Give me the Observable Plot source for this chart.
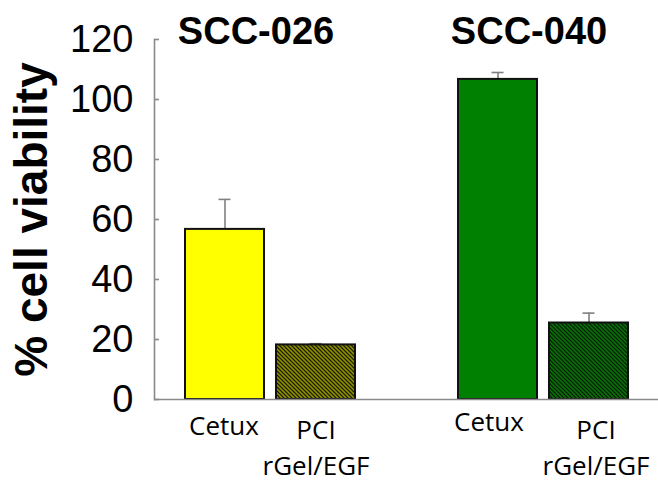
<!DOCTYPE html>
<html>
<head>
<meta charset="utf-8">
<script src="https://cdn.jsdelivr.net/npm/d3@7"></script>
<script src="https://cdn.jsdelivr.net/npm/@observablehq/plot@0.6"></script>
<style>
  html, body { margin: 0; padding: 0; background: #fff; }
</style>
</head>
<body>
<div id="chart"></div>
<script>
// ---- data ----
const cellLines = ["SCC-026", "SCC-026", "SCC-040", "SCC-040"];
const treatments = ["Cetux", "PCI\nrGel/EGF", "Cetux", "PCI\nrGel/EGF"];
const viability = [56.7, 18.2, 106.7, 25.5];
const errors = [10.0, 0.4, 2.3, 3.3];
const groupTitles = ["SCC-026", "SCC-040"];
const yTicks = [0, 20, 40, 60, 80, 100, 120];
const yLabel = "% cell viability";

const keys = treatments.map((t, i) => t.split("\n")[0] + "|" + cellLines[i]);
const spacer = " ";
const xDomain = [keys[0], keys[1], spacer, keys[2], keys[3]];
const rows = keys.map((k, i) => ({key: k, cell: cellLines[i], treatment: treatments[i], v: viability[i], e: errors[i], top: viability[i] + errors[i]}));
const titleRows = groupTitles.map(g => ({title: g, key: keys[cellLines.indexOf(g)]}));

const labelFont = "'Open Sans', 'Noto Sans', sans-serif";
const isCetux = d => d.treatment === "Cetux";
const first = d => d.cell === groupTitles[0];

function labels(filter, opts) {
  return Plot.text(rows.filter(filter), {x: "key", y: 0, text: "treatment", textAnchor: "middle", lineAnchor: "middle", lineHeight: 1.4, fontSize: 26, fontFamily: labelFont, fill: "#000", ...opts});
}

const svg = Plot.plot({
  width: 658,
  height: 483,
  marginLeft: 154,
  marginRight: 0,
  marginTop: 39,
  marginBottom: 84,
  style: {fontFamily: "'Liberation Sans', Arial, sans-serif", background: "#fff", overflow: "visible"},
  x: {type: "band", domain: xDomain, paddingInner: 0.132, paddingOuter: 0.335, axis: null},
  y: {domain: [0, 120], axis: null},
  color: {domain: keys, range: ["#ffff00", "url(#hatchYellow)", "#008000", "url(#hatchGreen)"]},
  marks: [
    Plot.ruleX(rows, {x: "key", y1: "v", y2: "top", stroke: "#808080", strokeWidth: 1.6}),
    Plot.tickY(rows, {x: "key", y: "top", stroke: "#808080", strokeWidth: 1.6, insetLeft: 33.5, insetRight: 33.5}),
    Plot.barY(rows, {x: "key", y: "v", fill: "key", stroke: "#111", strokeWidth: 2}),
    Plot.ruleY([0], {stroke: "#8a8a8a", strokeWidth: 1.6}),
    Plot.frame({anchor: "left", stroke: "#8a8a8a", strokeWidth: 1.6}),
    Plot.axisY({ticks: yTicks, tickSize: -5, tickPadding: 26, stroke: "#8a8a8a", strokeWidth: 1.6, fontSize: 38, fill: "#000", label: null}),
    labels(d => isCetux(d) && first(d), {dy: 24, dx: -1}),
    labels(d => isCetux(d) && !first(d), {dy: 20, dx: -9}),
    labels(d => !isCetux(d) && first(d), {dy: 46}),
    labels(d => !isCetux(d) && !first(d), {dy: 46, dx: 7}),
    Plot.text(titleRows, {x: "key", y: 120, text: "title", dx: 31, dy: -8, textAnchor: "middle", lineAnchor: "middle", fontSize: 38, fontWeight: "bold", fill: "#000"}),
    Plot.text([yLabel], {frameAnchor: "left", dx: -122, rotate: -90, text: d => d, textAnchor: "middle", lineAnchor: "middle", fontSize: 46, fontWeight: "bold", fill: "#000"})
  ]
});

// hatch patterns
const defs = d3.select(svg).insert("defs", ":first-child");
function hatch(id, bg, fg) {
  const p = defs.append("pattern").attr("id", id).attr("patternUnits", "userSpaceOnUse")
    .attr("width", 4).attr("height", 4);
  p.append("rect").attr("width", 4).attr("height", 4).attr("fill", bg);
  p.append("path").attr("d", "M-1,3 l2,2 M0,0 l4,4 M3,-1 l2,2").attr("stroke", fg).attr("stroke-width", 1.6);
}
hatch("hatchYellow", "#141400", "#8c8c00");
hatch("hatchGreen", "#021a02", "#0b6e0b");

document.getElementById("chart").appendChild(svg);
</script>
</body>
</html>
